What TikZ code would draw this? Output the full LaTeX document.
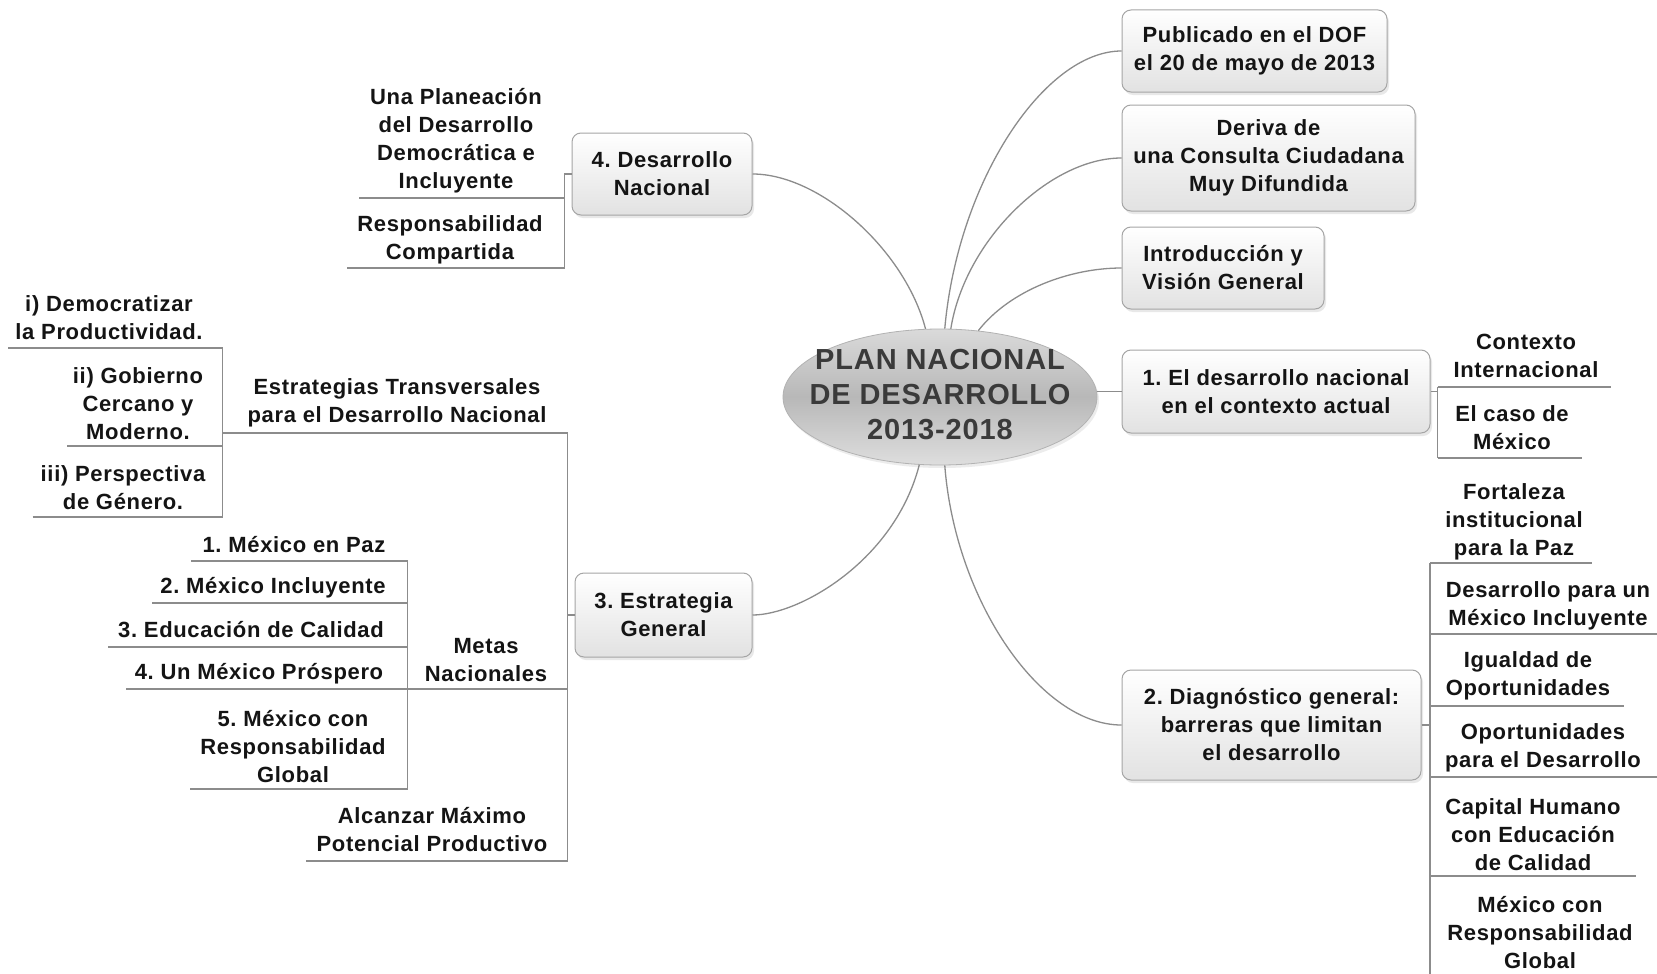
\documentclass[tikz,border=0pt]{standalone}
\usepackage{fontspec}
\setmainfont{Liberation Sans}[LetterSpace=3]
\usetikzlibrary{shapes.geometric,shadows}
\frenchspacing
\definecolor{linegray}{RGB}{140,140,140}
\definecolor{txt}{RGB}{20,20,20}
\definecolor{ctxt}{RGB}{58,58,58}
\definecolor{boxline}{RGB}{165,165,165}
\definecolor{boxbot}{RGB}{226,226,226}
\definecolor{elltop}{RGB}{218,218,218}
\definecolor{ellmid}{RGB}{184,184,184}
\definecolor{ellbot}{RGB}{222,222,222}
\tikzset{
  box/.style={rounded corners=9pt, draw=boxline, line width=1pt, top color=white, bottom color=boxbot,
    drop shadow={opacity=0.18, shadow xshift=2pt, shadow yshift=-3pt},
    inner sep=0pt, align=center, text=txt, font=\bfseries\frenchspacing\fontsize{22}{28}\selectfont},
  lbl/.style={inner sep=0pt, align=center, text=txt, font=\bfseries\frenchspacing\fontsize{22}{28}\selectfont},
  conn/.style={draw=linegray, line width=1.3pt},
  uline/.style={draw=linegray, line width=1.2pt},
}
\begin{document}
\begin{tikzpicture}[x=1pt,y=-1pt]
\fill[white] (0,0) rectangle (1657,974);
\useasboundingbox (0,0) rectangle (1657,974);

% central topic
\node[ellipse, minimum width=314pt, minimum height=136pt, draw=gray!60, line width=0.8pt,
  top color=elltop, bottom color=ellbot, middle color=ellmid,
  drop shadow={opacity=0.15, shadow xshift=2pt, shadow yshift=-3pt}] (c) at (940,397) {};
\node[inner sep=0pt, align=center, text=ctxt, font=\bfseries\fontsize{29}{35}\selectfont] (ctext) at (940,395)
  {PLAN NACIONAL\\DE DESARROLLO\\2013-2018};

% main boxes
\node[box, minimum width=265pt, minimum height=82pt] (pub) at (1254.5,51) {Publicado en el DOF\\el 20 de mayo de 2013};
\node[box, minimum width=293pt, minimum height=106pt] (der) at (1268.5,158) {Deriva de\\una Consulta Ciudadana\\Muy Difundida};
\node[box, minimum width=202pt, minimum height=82pt] (intro) at (1223,268) {Introducción y\\Visión General};
\node[box, minimum width=308pt, minimum height=83pt] (b1) at (1276,391.5) {1. El desarrollo nacional\\en el contexto actual};
\node[box, minimum width=299pt, minimum height=110pt] (b2) at (1271.5,725) {2. Diagnóstico general:\\barreras que limitan\\el desarrollo};
\node[box, minimum width=177pt, minimum height=84pt] (b3) at (663.5,615) {3. Estrategia\\General};
\node[box, minimum width=180pt, minimum height=82pt] (b4) at (662,174) {4. Desarrollo\\Nacional};

% connectors from centre
\draw[conn] (c.86) .. controls (958,180) and (1045,51) .. (pub.west);
\draw[conn] (c.81) .. controls (965,240) and (1050,158) .. (der.west);
\draw[conn] (c.60) .. controls (1010,290) and (1070,268) .. (intro.west);
\draw[conn] (b1.west) -- (b1.west -| c.east);
\draw[conn] (c.102) .. controls (905,250) and (820,174) .. (b4.east);
\draw[conn] (c.-107) .. controls (895,560) and (800,615) .. (b3.east);
\draw[conn] (c.-86) .. controls (955,600) and (1040,725) .. (b2.west);

% ---- branch 4
\node[lbl] (una) at (456,141) {Una Planeación\\del Desarrollo\\Democrática e\\Incluyente};
\node[lbl] (resp) at (450,240) {Responsabilidad\\Compartida};
\coordinate (v4t) at (564.5,174);
\coordinate (v4a) at (564.5,198);
\coordinate (v4b) at (564.5,268);
\coordinate (una-l) at (359,198);
\coordinate (resp-l) at (347,268);
\draw[uline] (b4.west) -- (v4t) -- (v4b);
\draw[uline] (una-l) -- (v4a);
\draw[uline] (resp-l) -- (v4b);

% ---- branch 3
\coordinate (v3j) at (567.5,615);
\coordinate (v3t) at (567.5,433);
\coordinate (v3m) at (567.5,689);
\coordinate (v3b) at (567.5,861);
\draw[uline] (b3.west) -- (v3j);
\draw[uline] (v3t) -- (v3b);
\node[lbl] (est) at (397,403) {Estrategias Transversales\\para el Desarrollo Nacional};
\node[lbl] (metas) at (486,660) {Metas\\Nacionales};
\node[lbl] (alc) at (432,830) {Alcanzar Máximo\\Potencial Productivo};
\coordinate (vet) at (222.7,348);
\coordinate (vem) at (222.7,433);
\coordinate (veii) at (222.7,446);
\coordinate (veb) at (222.7,517);
\coordinate (vmt) at (407.6,561);
\coordinate (vm2) at (407.6,603);
\coordinate (vm3) at (407.6,647);
\coordinate (vmm) at (407.6,689);
\coordinate (vmb) at (407.6,789);
\coordinate (alc-l) at (306,861);
\draw[uline] (vem) -- (v3t);
\draw[uline] (vmm) -- (v3m);
\draw[uline] (alc-l) -- (v3b);

% transversales
\node[lbl] (ti) at (109,318) {i) Democratizar\\la Productividad.};
\node[lbl] (tii) at (138,404) {ii) Gobierno\\Cercano y\\Moderno.};
\node[lbl] (tiii) at (123,488) {iii) Perspectiva\\de Género.};
\coordinate (ti-l) at (8,348);
\coordinate (tii-l) at (67,446);
\coordinate (tiii-l) at (32.5,517);
\draw[uline] (vet) -- (veb);
\draw[uline] (ti-l) -- (vet);
\draw[uline] (tii-l) -- (veii);
\draw[uline] (tiii-l) -- (veb);

% metas
\node[lbl] (m1) at (294,545) {1. México en Paz};
\node[lbl] (m2) at (273,588) {2. México Incluyente};
\node[lbl] (m3) at (251,630) {3. Educación de Calidad};
\node[lbl] (m4) at (259,674) {4. Un México Próspero};
\node[lbl] (m5) at (293,747) {5. México con\\Responsabilidad\\Global};
\coordinate (m1-l) at (191,561);
\coordinate (m2-l) at (152,603);
\coordinate (m3-l) at (108,647);
\coordinate (m4-l) at (126,689);
\coordinate (m5-l) at (190,789);
\draw[uline] (vmt) -- (vmb);
\draw[uline] (m1-l) -- (vmt);
\draw[uline] (m2-l) -- (vm2);
\draw[uline] (m3-l) -- (vm3);
\draw[uline] (m4-l) -- (vmm);
\draw[uline] (m5-l) -- (vmb);

% ---- branch 1
\coordinate (v1j) at (1437.5,391.5);
\coordinate (v1t) at (1437.5,387);
\coordinate (v1b) at (1437.5,458);
\coordinate (ctx-r) at (1611,387);
\coordinate (caso-r) at (1582,458);
\node[lbl] (ctx) at (1526,356) {Contexto\\Internacional};
\node[lbl] (caso) at (1512,428) {El caso de\\México};
\draw[uline] (b1.east) -- (v1j);
\draw[uline] (v1t) -- (v1b);
\draw[uline] (v1t) -- (ctx-r);
\draw[uline] (v1b) -- (caso-r);

% ---- branch 2
\coordinate (v2j) at (1430,725);
\coordinate (v2t) at (1430,563);
\coordinate (v2a) at (1430,634);
\coordinate (v2b) at (1430,706);
\coordinate (v2c) at (1430,777);
\coordinate (v2d) at (1430,876);
\coordinate (v2e) at (1430,974);
\coordinate (fort-r) at (1592,563);
\coordinate (desm-r) at (1657,634);
\coordinate (igu-r) at (1624,706);
\coordinate (opo-r) at (1657,777);
\coordinate (cap-r) at (1636,876);
\node[lbl] (fort) at (1514,522) {Fortaleza\\institucional\\para la Paz};
\node[lbl] (desm) at (1548,606) {Desarrollo para un\\México Incluyente};
\node[lbl] (igu) at (1528,676) {Igualdad de\\Oportunidades};
\node[lbl] (opo) at (1543,748) {Oportunidades\\para el Desarrollo};
\node[lbl] (cap) at (1533,835) {Capital Humano\\con Educación\\de Calidad};
\node[lbl] (mexg) at (1540,933) {México con\\Responsabilidad\\Global};
\draw[uline] (b2.east) -- (v2j);
\draw[uline] (v2t) -- (v2e);
\draw[uline] (v2t) -- (fort-r);
\draw[uline] (v2a) -- (desm-r);
\draw[uline] (v2b) -- (igu-r);
\draw[uline] (v2c) -- (opo-r);
\draw[uline] (v2d) -- (cap-r);
\end{tikzpicture}
\end{document}
